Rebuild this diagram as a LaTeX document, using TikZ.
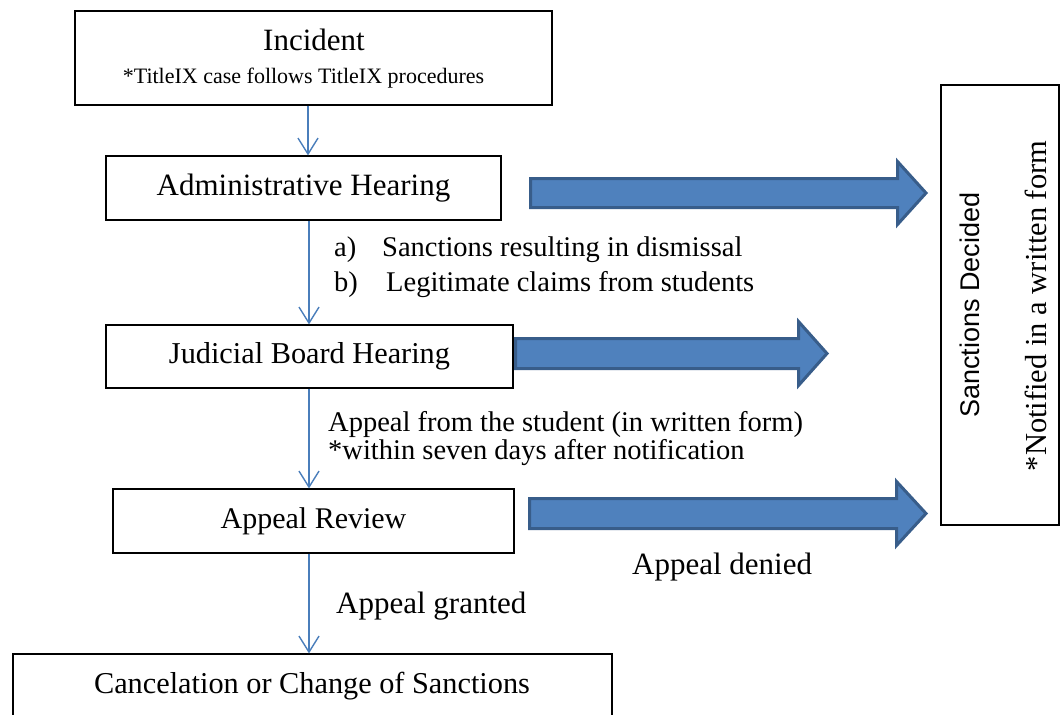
\documentclass[tikz,border=0pt]{standalone}
\usepackage{fontspec}
\setmainfont{Liberation Serif}
\setsansfont{Liberation Sans}
\usetikzlibrary{arrows.meta}
\definecolor{arrfill}{HTML}{4F81BD}
\definecolor{arrline}{HTML}{385D8A}
\definecolor{thinblue}{HTML}{4A7EBB}
\begin{document}
\begin{tikzpicture}[x=1pt,y=-1pt,
  box/.style={draw=black, line width=1.2pt, fill=white, inner sep=0pt},
  flow/.style={draw=thinblue, line width=1.4pt, -{Straight Barb[length=16pt,width=20pt,line width=1.4pt]}},
  bigarrow/.style={fill=arrfill, draw=arrline, line width=3pt, line join=miter},
  lbl/.style={inner sep=0pt, anchor=base west, font=\fontsize{28.5}{34}\selectfont},
  boxtxt/.style={inner sep=0pt, anchor=base},
]
\useasboundingbox (0,0) rectangle (1061,715);
\fill[white] (0,0) rectangle (1061,715);

% boxes
\node[box, minimum width=477pt, minimum height=94pt] (inc) at (313.5,58) {};
\node[boxtxt, font=\fontsize{31}{36}\selectfont] (tinc) at (314,50) {Incident};
\node[boxtxt, font=\fontsize{22}{26}\selectfont] (ttix) at (303.5,83) {*TitleIX case follows TitleIX procedures};

\node[box, minimum width=395pt, minimum height=64pt, font=\fontsize{31}{36}\selectfont] (adm) at (303.5,188) {Administrative Hearing};
\node[box, minimum width=407pt, minimum height=63pt, font=\fontsize{30.3}{36}\selectfont] (jud) at (309.5,356.5) {Judicial Board Hearing};
\node[box, minimum width=401pt, minimum height=64pt, font=\fontsize{30}{36}\selectfont] (app) at (313.5,521) {Appeal Review};
\node[box, minimum width=599pt, minimum height=86pt] (can) at (312.5,697) {};
\node[boxtxt, font=\fontsize{30.3}{36}\selectfont] (tcan) at (312,693) {Cancelation or Change of Sanctions};

\node[box, minimum width=118pt, minimum height=440pt] (san) at (1000,305) {};
\node[inner sep=0pt, rotate=90, font=\sffamily\fontsize{27}{32}\selectfont] (tsd) at (970,305) {Sanctions Decided};
\node[inner sep=0pt, rotate=90, font=\fontsize{30.5}{36}\selectfont] (tnw) at (1036,306) {*Notified in a written form};

% thin flow arrows
\coordinate (xa) at (308,0);
\coordinate (xb) at (309,0);
\draw[flow] (xa |- inc.south) -- (xa |- adm.north);
\draw[flow] (xb |- adm.south) -- (xb |- jud.north);
\draw[flow] (xb |- jud.south) -- (xb |- app.north);
\draw[flow] (xb |- app.south) -- (xb |- can.north);

% labels
\node[lbl] (la) at (334,256) {\makebox[48pt][l]{a)}Sanctions resulting in dismissal};
\node[lbl] (lb) at (334,291) {\makebox[52pt][l]{b)}Legitimate claims from students};
\node[lbl] (lc) at (328,431) {Appeal from the student (in written form)};
\node[lbl] (ld) at (328,459) {*within seven days after notification};
\node[lbl, font=\fontsize{31}{36}\selectfont] (le) at (632,574) {Appeal denied};
\node[lbl, font=\fontsize{31}{36}\selectfont] (lf) at (336,613) {Appeal granted};

% big block arrows
\draw[bigarrow] (530.5,178.5) -- (897.5,178.5) -- (897.5,161.5) -- (926,193) -- (897.5,224.5) -- (897.5,207.5) -- (530.5,207.5) -- cycle;
\draw[bigarrow] (515.5,338.5) -- (798.5,338.5) -- (798.5,321.5) -- (827,353.5) -- (798.5,385.5) -- (798.5,368.5) -- (515.5,368.5) -- cycle;
\draw[bigarrow] (529.5,498.5) -- (896.5,498.5) -- (896.5,481.5) -- (926,513.5) -- (896.5,545.5) -- (896.5,528.5) -- (529.5,528.5) -- cycle;
\end{tikzpicture}
\end{document}
